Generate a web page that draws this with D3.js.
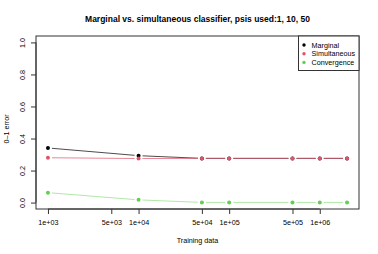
<!DOCTYPE html>
<html>
<head>
<meta charset="utf-8">
<script src="https://cdnjs.cloudflare.com/ajax/libs/d3/7.8.5/d3.min.js"></script>
<style>
  body { margin: 0; background: #fff; }
  text { font-family: "Liberation Sans", Arial, sans-serif; }
</style>
</head>
<body>
<script>
  // data
  let trainingData = [1e3, 1e4, 5e4, 1e5, 5e5, 1e6, 2e6];
  let marginal     = [0.341, 0.293, 0.276, 0.276, 0.276, 0.276, 0.276];
  let simultaneous = [0.280, 0.275, 0.276, 0.276, 0.276, 0.276, 0.276];
  let convergence  = [0.062, 0.017, 0.001, 0.001, 0.001, 0.001, 0.001];
  let xTicks = [1e3, 5e3, 1e4, 5e4, 1e5, 5e5, 1e6];
  let yTicks = [0, 0.2, 0.4, 0.6, 0.8, 1.0];

  let series = [
    {name: "Marginal", values: marginal, color: "#000000", line: "rgba(0,0,0,0.7)"},
    {name: "Simultaneous", values: simultaneous, color: "#DF536B", line: "rgba(223,83,107,0.7)"},
    {name: "Convergence", values: convergence, color: "#61D04F", line: "rgba(97,208,79,0.5)"}
  ];

  let W = 378, H = 254;
  let pLeft = 36, pRight = 359, pTop = 36, pBottom = 209;
  let fs = 7.2;

  let svg = d3.select("body").append("svg").attr("width", W).attr("height", H);

  // R style: 4% padding around the data range
  let lx = d3.extent(trainingData).map(Math.log10);
  let px = (lx[1] - lx[0]) * 0.04;
  let x = d3.scaleLog().domain([Math.pow(10, lx[0] - px), Math.pow(10, lx[1] + px)]).range([pLeft, pRight]);
  let y = d3.scaleLinear().domain([-0.04, 1.04]).range([pBottom, pTop]);

  // title
  svg.append("text").attr("x", (pLeft + pRight) / 2).attr("y", 22)
    .attr("text-anchor", "middle").attr("font-size", 8.5).attr("font-weight", "bold")
    .text("Marginal vs. simultaneous classifier, psis used:1, 10, 50");

  // axes
  let xAxis = svg.append("g").attr("transform", `translate(0,${pBottom})`)
    .call(d3.axisBottom(x).tickValues(xTicks).tickSize(5).tickPadding(5)
      .tickFormat(d => d3.format(".0e")(d).replace(/e\+(\d)$/, "e+0$1")));
  xAxis.select(".domain").attr("d", `M${x(xTicks[0])},0H${x(xTicks[xTicks.length - 1])}`).attr("stroke", "#333");
  xAxis.selectAll("line").attr("stroke", "#333");
  xAxis.selectAll("text").attr("font-size", fs).attr("font-family", "Liberation Sans, Arial, sans-serif")
    .attr("y", 13).attr("dy", "0.35em");

  let yAxis = svg.append("g").attr("transform", `translate(${pLeft},0)`)
    .call(d3.axisLeft(y).tickValues(yTicks).tickSize(5).tickFormat(d3.format(".1f")));
  yAxis.select(".domain").attr("d", `M0,${y(0)}V${y(1)}`).attr("stroke", "#333");
  yAxis.selectAll("line").attr("stroke", "#333");
  yAxis.selectAll("text")
    .attr("font-size", fs).attr("font-family", "Liberation Sans, Arial, sans-serif")
    .attr("text-anchor", "middle").attr("x", 0).attr("dy", 0)
    .attr("transform", "translate(-11,0) rotate(-90)");

  // box
  svg.append("rect").attr("x", pLeft).attr("y", pTop).attr("width", pRight - pLeft).attr("height", pBottom - pTop)
    .attr("fill", "none").attr("stroke", "#333");

  // axis titles
  svg.append("text").attr("x", (pLeft + pRight) / 2).attr("y", 243)
    .attr("text-anchor", "middle").attr("font-size", fs).text("Training data");
  svg.append("text").attr("transform", "translate(9,129) rotate(-90)")
    .attr("text-anchor", "middle").attr("font-size", fs).text("0\u20131 error");

  // lines with gaps around points (type = "b")
  let gap = 4;
  series.forEach(s => {
    let pts = trainingData.map((t, i) => [x(t), y(s.values[i])]);
    let segs = d3.pairs(pts).filter(([a, b]) => Math.hypot(b[0] - a[0], b[1] - a[1]) > 2 * gap);
    let u = d => { let len = Math.hypot(d[1][0] - d[0][0], d[1][1] - d[0][1]); return [(d[1][0] - d[0][0]) / len, (d[1][1] - d[0][1]) / len]; };
    svg.append("g").selectAll("line").data(segs).enter().append("line")
      .attr("x1", d => d[0][0] + gap * u(d)[0])
      .attr("y1", d => d[0][1] + gap * u(d)[1])
      .attr("x2", d => d[1][0] - gap * u(d)[0])
      .attr("y2", d => d[1][1] - gap * u(d)[1])
      .attr("stroke", s.line).attr("stroke-width", 1);
    svg.append("g").selectAll("circle").data(pts).enter().append("circle")
      .attr("cx", d => d[0]).attr("cy", d => d[1]).attr("r", 2).attr("fill", s.color);
  });

  // legend
  let leg = svg.append("g");
  leg.append("rect").attr("x", 298.5).attr("y", pTop).attr("width", pRight - 298.5).attr("height", 34.5)
    .attr("fill", "#fff").attr("stroke", "#333");
  series.forEach((s, i) => {
    leg.append("circle").attr("cx", 304).attr("cy", 45 + i * 8.7).attr("r", 1.7).attr("fill", s.color);
    leg.append("text").attr("x", 311.5).attr("y", 45 + i * 8.7).attr("dy", "0.35em")
      .attr("font-size", fs).text(s.name);
  });
</script>
</body>
</html>
